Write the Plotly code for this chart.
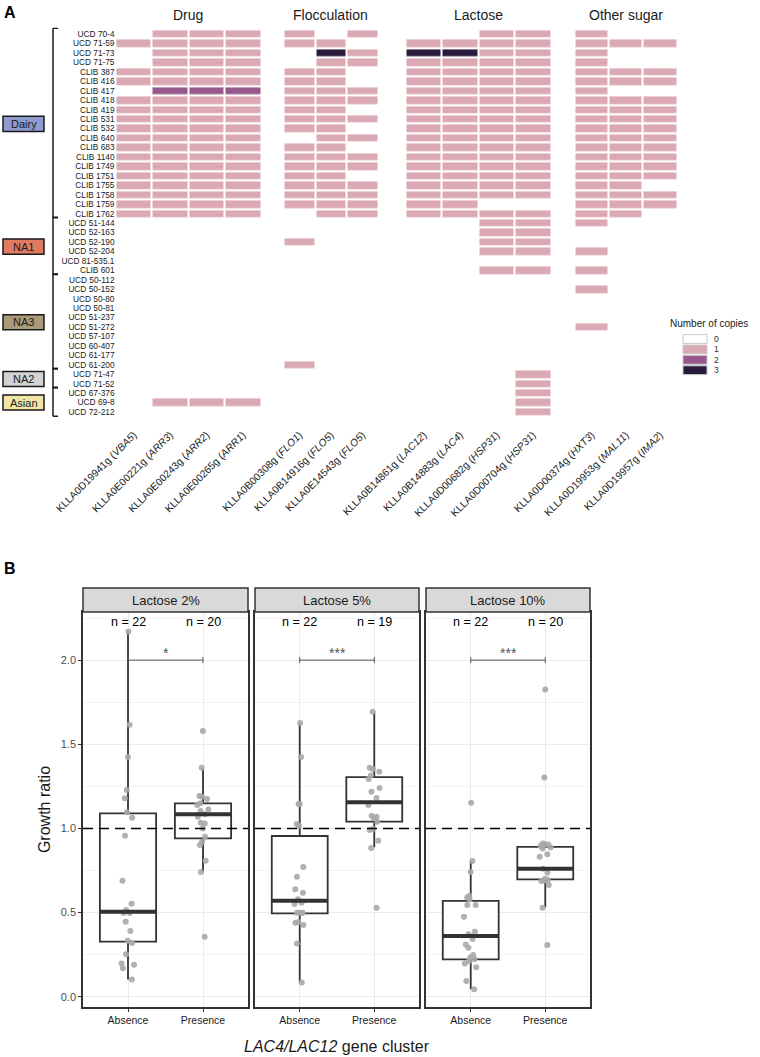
import plotly.graph_objects as go

# ── Panel A data: gene copy numbers per strain ───────────────────────────────
STRAINS = [
    "UCD 70-4", "UCD 71-59", "UCD 71-73", "UCD 71-75", "CLIB 387", "CLIB 416",
    "CLIB 417", "CLIB 418", "CLIB 419", "CLIB 531", "CLIB 532", "CLIB 640",
    "CLIB 683", "CLIB 1140", "CLIB 1749", "CLIB 1751", "CLIB 1755", "CLIB 1758",
    "CLIB 1759", "CLIB 1762",
    "UCD 51-144", "UCD 52-163", "UCD 52-190", "UCD 52-204", "UCD 81-535.1",
    "CLIB 601",
    "UCD 50-112", "UCD 50-152", "UCD 50-80", "UCD 50-81", "UCD 51-237",
    "UCD 51-272", "UCD 57-107", "UCD 60-407", "UCD 61-177", "UCD 61-200",
    "UCD 71-47", "UCD 71-52",
    "UCD 67-376", "UCD 69-8", "UCD 72-212",
]
GROUP_NAMES = ["Dairy", "NA1", "NA3", "NA2", "Asian"]
GROUP_SIZES = [20, 6, 10, 2, 3]

FACETS = ["Drug", "Flocculation", "Lactose", "Other sugar"]
DRUG_GENES = ["KLLA0D19941g (<i>VBA5</i>)", "KLLA0E00221g (<i>ARR3</i>)",
              "KLLA0E00243g (<i>ARR2</i>)", "KLLA0E00265g (<i>ARR1</i>)"]
FLOC_GENES = ["KLLA0B00308g (<i>FLO1</i>)", "KLLA0B14916g (<i>FLO5</i>)",
              "KLLA0E14543g (<i>FLO5</i>)"]
LACT_GENES = ["KLLA0B14861g (<i>LAC12</i>)", "KLLA0B14883g (<i>LAC4</i>)",
              "KLLA0D00682g (<i>HSP31</i>)", "KLLA0D00704g (<i>HSP31</i>)"]
OTHER_GENES = ["KLLA0D00374g (<i>HXT3</i>)", "KLLA0D19953g (<i>MAL11</i>)",
               "KLLA0D19957g (<i>IMA2</i>)"]

# one string per strain (same order as STRAINS), one digit per gene
DRUG_COPIES = [
    "0111", "1111", "0111", "0111", "1111", "1111", "0222", "1111", "1111", "1111",
    "1111", "1111", "1111", "1111", "1111", "1111", "1111", "1111", "1111", "1111",
    "0000", "0000", "0000", "0000", "0000", "0000",
    "0000", "0000", "0000", "0000", "0000", "0000", "0000", "0000", "0000", "0000",
    "0000", "0000",
    "0000", "0111", "0000",
]
FLOC_COPIES = [
    "101", "110", "031", "011", "110", "110", "111", "111", "110", "111",
    "110", "011", "110", "111", "111", "110", "111", "111", "111", "011",
    "000", "000", "100", "000", "000", "000",
    "000", "000", "000", "000", "000", "000", "000", "000", "000", "100",
    "000", "000",
    "000", "000", "000",
]
LACT_COPIES = [
    "0011", "1111", "3311", "1111", "1111", "1111", "1111", "1111", "1111", "1111",
    "1111", "1111", "1111", "1111", "1111", "1111", "1111", "1111", "1100", "1111",
    "0011", "0011", "0011", "0011", "0000", "0011",
    "0000", "0000", "0000", "0000", "0000", "0000", "0000", "0000", "0000", "0000",
    "0001", "0001",
    "0001", "0001", "0001",
]
OTHER_COPIES = [
    "100", "111", "100", "100", "111", "111", "100", "111", "111", "111",
    "111", "111", "111", "111", "111", "111", "110", "111", "111", "110",
    "100", "000", "000", "100", "000", "100",
    "000", "100", "000", "000", "000", "100", "000", "000", "000", "000",
    "000", "000",
    "000", "000", "000",
]
COPY_LEVELS = ["0", "1", "2", "3"]

# ── Panel B data: growth ratios ──────────────────────────────────────────────
CONDITIONS = ["Lactose 2%", "Lactose 5%", "Lactose 10%"]
GROUPS = ["Absence", "Presence"]
SIGNIF = ["*", "***", "***"]

ABS_2 = [2.17, 1.616, 1.424, 1.228, 1.18, 1.096, 1.064, 0.957, 0.689, 0.553, 0.515,
         0.497, 0.497, 0.446, 0.39, 0.333, 0.32, 0.252, 0.198, 0.19, 0.169, 0.103]
PRES_2 = [1.579, 1.361, 1.192, 1.188, 1.175, 1.149, 1.139, 1.113, 1.104, 1.084,
          1.07, 1.034, 1.03, 1.0, 0.951, 0.921, 0.901, 0.808, 0.741, 0.357]
ABS_5 = [1.626, 1.424, 1.145, 1.145, 1.026, 1.016, 0.771, 0.713, 0.638, 0.618, 0.579,
         0.559, 0.551, 0.499, 0.499, 0.499, 0.499, 0.444, 0.44, 0.426, 0.317, 0.085]
PRES_5 = [1.693, 1.361, 1.353, 1.337, 1.315, 1.293, 1.24, 1.218, 1.181, 1.139,
          1.076, 1.07, 1.06, 1.04, 0.996, 0.99, 0.927, 0.883, 0.529]
ABS_10 = [1.153, 0.806, 0.741, 0.598, 0.59, 0.579, 0.545, 0.545, 0.475, 0.386, 0.372,
          0.343, 0.311, 0.291, 0.248, 0.234, 0.222, 0.212, 0.198, 0.175, 0.093, 0.044]
PRES_10 = [1.826, 1.303, 0.911, 0.907, 0.905, 0.901, 0.895, 0.887, 0.881, 0.846,
           0.832, 0.761, 0.737, 0.701, 0.693, 0.69, 0.687, 0.664, 0.529, 0.307]

# box statistics per condition: [absence, presence]
Q1 = [[0.327, 0.941], [0.495, 1.04], [0.222, 0.697]]
MEDIAN = [[0.505, 1.084], [0.570, 1.155], [0.361, 0.761]]
Q3 = [[1.09, 1.149], [0.955, 1.305], [0.570, 0.891]]
LOWER = [[0.103, 0.743], [0.085, 0.888], [0.044, 0.531]]
UPPER = [[2.17, 1.359], [1.626, 1.693], [0.806, 0.911]]

# ── Styling ──────────────────────────────────────────────────────────────────
W, H = 760, 1057
FONT = "Liberation Sans, Arial, sans-serif"
INK = "#1a1a1a"
FRAME = "#333333"
COPY_COLORS = ["#FFFFFF", "#DBA9B3", "#98578B", "#2A1B3C"]
GROUP_COLORS = ["#8E9BD0", "#E07B62", "#A99A78", "#D3D3D6", "#F2E6A4"]
HEAT_DOMAINS = [(115.5, 261), (283.5, 378), (405.5, 551), (574.5, 677)]
BOX_DOMAINS = [(83, 248), (255, 419), (426, 590)]
BOX_WIDTH = 0.75


def _px(x):
    return x / W


def _py(y):
    return 1 - y / H


def _note(x, y, text, size, color=INK, xanchor="center", **kw):
    """Paper-positioned text, x/y in pixels from the top-left corner."""
    return dict(x=_px(x), y=_py(y), xref="paper", yref="paper", text=text,
                showarrow=False, xanchor=xanchor, yanchor="middle",
                font=dict(size=size, color=color), **kw)


def _copy_scale():
    """Discrete colourscale for integer copy numbers 0..3 (zmin -0.5, zmax 3.5)."""
    n = len(COPY_COLORS)
    scale = []
    for i, c in enumerate(COPY_COLORS):
        scale += [[i / n, c], [(i + 1) / n, c]]
    return scale


fig = go.Figure()
shapes, annotations = [], []

# ── Panel A: heatmap, one trace per facet sharing the strain axis ────────────
facet_genes = [DRUG_GENES, FLOC_GENES, LACT_GENES, OTHER_GENES]
facet_copies = [DRUG_COPIES, FLOC_COPIES, LACT_COPIES, OTHER_COPIES]
for k, (genes, copies) in enumerate(zip(facet_genes, facet_copies)):
    z = [[int(c) for c in row] for row in copies]
    fig.add_trace(go.Heatmap(
        x=genes, y=STRAINS, z=z, zmin=-0.5, zmax=3.5,
        colorscale=_copy_scale(), showscale=False, xgap=2, ygap=2.2,
        xaxis="x" if k == 0 else f"x{k + 1}", yaxis="y",
    ))
    x0, x1 = HEAT_DOMAINS[k]
    annotations.append(_note((x0 + x1) / 2, 15, FACETS[k], 14))

# population groups: bracket + coloured label box
start = 0
for name, size, color in zip(GROUP_NAMES, GROUP_SIZES, GROUP_COLORS):
    top, bot = start - 0.62, start + size - 1 + 0.45
    mid = start + (size - 1) / 2
    shapes.append(dict(type="line", xref="paper", yref="y", x0=_px(53), x1=_px(53),
                       y0=top, y1=bot, line=dict(color=INK, width=1.5)))
    for yy in (top, bot):
        shapes.append(dict(type="line", xref="paper", yref="y", x0=_px(53),
                           x1=_px(58), y0=yy, y1=yy, line=dict(color=INK, width=1.5)))
    shapes.append(dict(type="rect", xref="paper", yref="y", x0=_px(3), x1=_px(44),
                       y0=mid - 0.8, y1=mid + 0.8, fillcolor=color,
                       line=dict(color=INK, width=1.5)))
    annotations.append(dict(x=_px(23.5), y=mid, xref="paper", yref="y", text=name,
                            showarrow=False, xanchor="center", yanchor="middle",
                            font=dict(size=11, color=INK)))
    start += size

# copy-number legend
annotations.append(_note(668, 324, "Number of copies", 10, xanchor="left"))
for i, (lvl, color) in enumerate(zip(COPY_LEVELS, COPY_COLORS)):
    yc = 339 + i * 10.4
    shapes.append(dict(type="rect", xref="paper", yref="paper", x0=_px(683),
                       x1=_px(707), y0=_py(yc + 4.4), y1=_py(yc - 4.4),
                       fillcolor=color, line=dict(color="#C8C8C8", width=1)))
    annotations.append(_note(712, yc, lvl, 8.5, color="#333333", xanchor="left"))

annotations.append(_note(2, 13, "<b>A</b>", 16, color="black", xanchor="left"))

# ── Panel B: box plots per lactose concentration ─────────────────────────────
samples = [[ABS_2, PRES_2], [ABS_5, PRES_5], [ABS_10, PRES_10]]
for i, cond in enumerate(CONDITIONS):
    xa, ya = f"x{5 + i}", f"y{2 + i}"
    for j, grp in enumerate(GROUPS):
        pos = j + 1
        fig.add_trace(go.Box(
            x=[pos], q1=[Q1[i][j]], median=[MEDIAN[i][j]], q3=[Q3[i][j]],
            lowerfence=[LOWER[i][j]], upperfence=[UPPER[i][j]],
            width=BOX_WIDTH, whiskerwidth=0, fillcolor="white",
            line=dict(color=FRAME, width=1.8), boxpoints=False,
            xaxis=xa, yaxis=ya, hoverinfo="skip",
        ))
        # ggplot draws the median thicker than the box outline
        fig.add_trace(go.Scatter(
            x=[pos - BOX_WIDTH / 2, pos + BOX_WIDTH / 2], y=[MEDIAN[i][j]] * 2,
            mode="lines", line=dict(color=FRAME, width=4), xaxis=xa, yaxis=ya,
            hoverinfo="skip",
        ))
        pts = samples[i][j]
        fig.add_trace(go.Box(
            x=[pos] * len(pts), y=pts, boxpoints="all", jitter=0.3, pointpos=0,
            width=BOX_WIDTH, fillcolor="rgba(0,0,0,0)",
            line=dict(color="rgba(0,0,0,0)", width=0),
            marker=dict(color="#A9A9A9", size=6, opacity=0.9),
            xaxis=xa, yaxis=ya,
        ))
        annotations.append(dict(x=pos, y=2.226, xref=xa, yref=ya,
                                text=f"n = {len(pts)}", showarrow=False,
                                xanchor="center", yanchor="middle",
                                font=dict(size=12.5, color="black")))

    # reference line at ratio 1
    shapes.append(dict(type="line", xref=f"{xa} domain", yref=ya, x0=0, x1=1,
                       y0=1, y1=1, layer="above",
                       line=dict(color="black", width=1.6, dash="10px,6px")))
    # significance bracket
    shapes.append(dict(type="line", xref=xa, yref=ya, x0=1, x1=2, y0=2.0, y1=2.0,
                       line=dict(color="#555555", width=1)))
    for xx in (1, 2):
        shapes.append(dict(type="line", xref=xa, yref=ya, x0=xx, x1=xx,
                           y0=1.982, y1=2.018, line=dict(color="#555555", width=1)))
    annotations.append(dict(x=1.5, y=2.0, xref=xa, yref=ya, text=SIGNIF[i],
                            showarrow=False, xanchor="center", yanchor="bottom",
                            yshift=-3, font=dict(size=14, color="#555555")))

    # facet strip
    x0, x1 = BOX_DOMAINS[i]
    shapes.append(dict(type="rect", xref="paper", yref="paper", x0=_px(x0), x1=_px(x1),
                       y0=_py(612), y1=_py(588), fillcolor="#D9D9D9",
                       line=dict(color=FRAME, width=1.5)))
    annotations.append(_note((x0 + x1) / 2, 600, cond, 13))

annotations.append(_note(2, 568, "<b>B</b>", 16, color="black", xanchor="left"))
annotations.append(_note(337, 1046, "<i>LAC4/LAC12</i> gene cluster", 16))

# ── Layout ───────────────────────────────────────────────────────────────────
layout = dict(
    width=W, height=H, margin=dict(l=0, r=0, t=0, b=0, autoexpand=False),
    paper_bgcolor="white", plot_bgcolor="white",
    font=dict(family=FONT, color=INK), showlegend=False, boxmode="overlay",
    shapes=shapes, annotations=annotations,
)
for k, (x0, x1) in enumerate(HEAT_DOMAINS):
    layout["xaxis" if k == 0 else f"xaxis{k + 1}"] = dict(
        domain=[_px(x0), _px(x1)], anchor="y", type="category", tickangle=-45,
        tickfont=dict(size=10.3, color=INK), ticks="", showgrid=False,
        zeroline=False, showline=False, ticklabelstandoff=9, automargin=False,
    )
layout["yaxis"] = dict(
    domain=[_py(417), _py(27.5)], anchor="x", type="category",
    autorange="reversed", tickmode="array", tickvals=STRAINS, ticktext=STRAINS,
    tickfont=dict(size=8.3, color=INK), ticks="",
    showgrid=False, zeroline=False, showline=False, automargin=False,
)
for i, (x0, x1) in enumerate(BOX_DOMAINS):
    layout[f"xaxis{5 + i}"] = dict(
        domain=[_px(x0), _px(x1)], anchor=f"y{2 + i}", range=[0.4, 2.6],
        tickvals=[1, 2], ticktext=GROUPS, ticks="outside", ticklen=3,
        tickcolor=FRAME, tickfont=dict(size=10.5, color=INK),
        showgrid=True, gridcolor="#EBEBEB", gridwidth=1.2, automargin=False,
        showline=True, linecolor=FRAME, linewidth=1.5, mirror=True, zeroline=False,
    )
    layout[f"yaxis{2 + i}"] = dict(
        domain=[_py(1007), _py(612)], anchor=f"x{5 + i}", range=[-0.061, 2.286],
        tick0=0, dtick=0.5, tickformat=".1f", showticklabels=(i == 0),
        ticks="outside" if i == 0 else "", ticklen=3, tickcolor=FRAME,
        tickfont=dict(size=11, color="#4D4D4D"), automargin=False,
        showgrid=True, gridcolor="#EBEBEB", gridwidth=1.2,
        minor=dict(tick0=0, dtick=0.25, showgrid=True, gridcolor="#F3F3F3", gridwidth=1),
        showline=True, linecolor=FRAME, linewidth=1.5, mirror=True, zeroline=False,
    )
layout["yaxis2"]["title"] = dict(text="Growth ratio", font=dict(size=16, color=INK),
                                 standoff=6)

fig.update_layout(**layout)
# the page body has a default 8px margin; drop it so the figure sits at (0, 0)
fig.write_html("out.html", config={"displayModeBar": False},
               post_script="document.body.style.margin = '0';")
